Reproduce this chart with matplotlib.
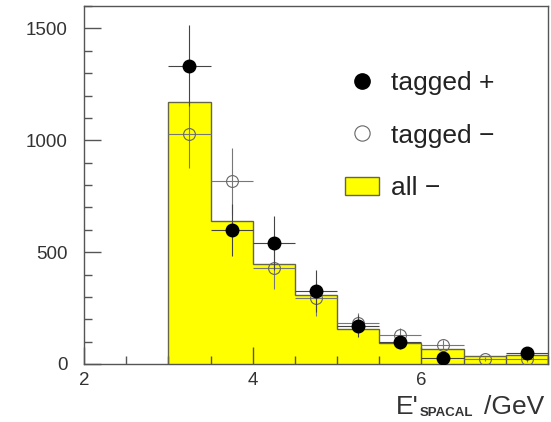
import matplotlib.pyplot as plt
import numpy as np
from matplotlib.lines import Line2D
from matplotlib.patches import Patch

plt.rcParams['font.family'] = ['Liberation Sans', 'DejaVu Sans']

# bins in E'_SPACAL (GeV)
edges = [3.0, 3.5, 4.0, 4.5, 5.0, 5.5, 6.0, 6.5, 7.0, 7.5]
centers = [3.25, 3.75, 4.25, 4.75, 5.25, 5.75, 6.25, 6.75, 7.25]

all_minus = [1171, 638, 447, 308, 157, 95, 66, 37, 40]

tag_plus = [1333, 597, 539, 327, 170, 97, 28, 0, 48]
tag_plus_err = [180, 116, 121, 94, 50, 30, 15, 0, 20]

tag_minus = [1026, 817, 430, 293, 182, 131, 87, 22, 21]
tag_minus_err = [148, 150, 95, 78, 45, 30, 20, 10, 10]

grey = '#555555'

fig = plt.figure(figsize=(5.51, 4.22), dpi=100)
ax = fig.add_axes([84/551, 58/422, 464/551, 358/422])

ax.bar(centers, all_minus, width=0.5, color='#ffff00', edgecolor='none', zorder=1)
ax.stairs(all_minus, edges, baseline=0, color='#666644', linewidth=1.0, zorder=2)

xerr = [0.25] * len(centers)
ax.errorbar(centers, tag_minus, xerr=xerr, yerr=tag_minus_err, fmt='none',
            ecolor='#777777', elinewidth=0.8, zorder=3)
ax.plot(centers, tag_minus, 'o', ms=8.5, mfc='none', mec='#666666', mew=0.8, zorder=4)

m = [i for i, v in enumerate(tag_plus) if v > 0]
px = [centers[i] for i in m]
py = [tag_plus[i] for i in m]
pe = [tag_plus_err[i] for i in m]
ax.errorbar(px, py, xerr=[0.25] * len(px), yerr=pe, fmt='none',
            ecolor='#444444', elinewidth=0.8, zorder=5)
ax.plot(px, py, 'o', ms=9, color='black', zorder=6)

ax.set_xlim(2, 7.5)
ax.set_ylim(0, 1600)
ax.set_xticks([2, 4, 6])
ax.set_xticks(np.arange(2, 7.51, 0.5), minor=True)
ax.set_yticks([0, 500, 1000, 1500])
ax.set_yticks(np.arange(0, 1601, 100), minor=True)
ax.tick_params(which='both', direction='in', colors=grey, labelcolor='#333333',
               labelsize=13.5, top=False, right=False)
ax.tick_params(which='major', length=12, width=1)
ax.tick_params(which='minor', length=6, width=1)
ax.tick_params(axis='y', pad=12)
ax.tick_params(axis='x', pad=6)
for s in ax.spines.values():
    s.set_color(grey)
    s.set_linewidth(1.0)

handles = [
    Line2D([], [], marker='o', ls='none', color='black', ms=11),
    Line2D([], [], marker='o', ls='none', mfc='none', mec='#666666', mew=0.8, ms=11),
    Patch(facecolor='#ffff00', edgecolor='#666644'),
]
labels = ['tagged +', 'tagged \u2212', 'all \u2212']
ax.legend(handles, labels, loc='upper left', bbox_to_anchor=(0.5625, 0.818),
          frameon=False, fontsize=19, labelspacing=1.08, handlelength=1.3,
          handleheight=0.7, handletextpad=0.45, borderpad=0, borderaxespad=0,
          labelcolor='#222222')

fig.text(396/551, 1 - 414/422, "E'", fontsize=19, color='#333333')
fig.text(420/551, 1 - 416/422, 'SPACAL', fontsize=9.5, color='#333333', weight='bold')
fig.text(484/551, 1 - 414/422, '/GeV', fontsize=19, color='#333333')

fig.savefig('out.png', dpi=100)
